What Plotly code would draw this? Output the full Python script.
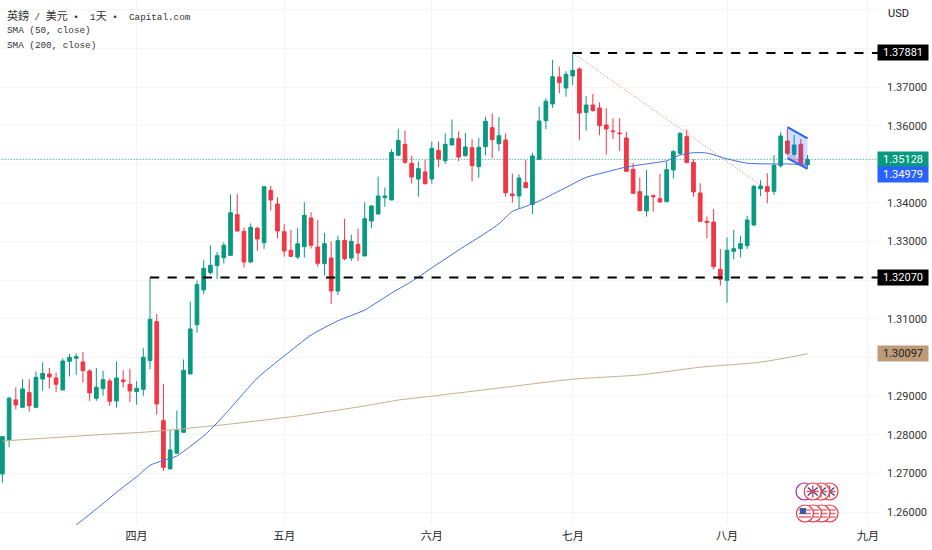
import plotly.graph_objects as go

PAGE_W = 932
PAGE_H = 550
PLOT_W = 878
PLOT_H = 525

# daily GBP/USD candles
opens = [1.26987, 1.27869, 1.28904, 1.28712, 1.29092, 1.28712, 1.29445, 1.29575, 1.29471, 1.29161,
         1.29902, 1.29980, 1.29885, 1.29652, 1.28945, 1.29195, 1.29394, 1.28876, 1.29419, 1.29307,
         1.29118, 1.29178, 1.29920, 1.30929, 1.28367, 1.27117, 1.27522, 1.28065, 1.29575, 1.30851,
         1.31748, 1.32196, 1.32377, 1.32584, 1.32644, 1.33697, 1.33265, 1.32472, 1.33343, 1.32972,
         1.34326, 1.33973, 1.33257, 1.32774, 1.32601, 1.32869, 1.33610, 1.32860, 1.32429, 1.32575,
         1.31722, 1.33033, 1.32575, 1.32929, 1.32627, 1.33533, 1.33714, 1.34137, 1.34076, 1.35232,
         1.35516, 1.35025, 1.34620, 1.34801, 1.34620, 1.35361, 1.35094, 1.35499, 1.35663, 1.35223,
         1.35430, 1.34939, 1.35456, 1.35948, 1.35534, 1.35629, 1.34232, 1.34180, 1.34525, 1.33964,
         1.35128, 1.36129, 1.36560, 1.37259, 1.36974, 1.37285, 1.37466, 1.36344, 1.36534, 1.36457,
         1.36017, 1.35862, 1.35810, 1.35681, 1.34870, 1.34292, 1.33792, 1.34189, 1.34111, 1.34033,
         1.34853, 1.35284, 1.35715, 1.35051, 1.34258, 1.33525, 1.33507, 1.32283, 1.31998, 1.32748,
         1.32817, 1.32895, 1.33430, 1.34370, 1.34422, 1.34301, 1.34965, 1.35603, 1.35258, 1.35517,
         1.34991]
highs = [1.2797, 1.2899, 1.2923, 1.2944, 1.2944, 1.2964, 1.2988, 1.2973, 1.2961, 1.2998,
         1.3009, 1.3011, 1.3014, 1.2970, 1.2973, 1.2966, 1.2946, 1.2990, 1.2967, 1.2971,
         1.2939, 1.3024, 1.32070, 1.3113, 1.2932, 1.2813, 1.2863, 1.2995, 1.3145, 1.3199,
         1.3252, 1.3290, 1.3273, 1.3298, 1.3422, 1.3423, 1.3337, 1.3347, 1.3339, 1.3442,
         1.3444, 1.3415, 1.3345, 1.3330, 1.3335, 1.3402, 1.3376, 1.3356, 1.3322, 1.3300,
         1.3315, 1.3359, 1.3318, 1.3333, 1.3402, 1.3394, 1.3468, 1.3440, 1.3539, 1.3592,
         1.3587, 1.3522, 1.3507, 1.3511, 1.3559, 1.3559, 1.3580, 1.3616, 1.3585, 1.3581,
         1.3565, 1.3568, 1.3623, 1.3632, 1.3622, 1.3580, 1.3476, 1.3474, 1.3511, 1.3530,
         1.3649, 1.3671, 1.3770, 1.3753, 1.3741, 1.37881, 1.3751, 1.3677, 1.3682, 1.3660,
         1.3645, 1.3619, 1.3619, 1.3584, 1.3503, 1.3466, 1.3485, 1.3422, 1.3475, 1.3507,
         1.3537, 1.3583, 1.3589, 1.3513, 1.3451, 1.3365, 1.3384, 1.3281, 1.3311, 1.3330,
         1.3315, 1.3367, 1.3447, 1.3459, 1.3477, 1.3524, 1.3584, 1.3593, 1.3576, 1.3565,
         1.3524]
lows = [1.2676, 1.2768, 1.2866, 1.2871, 1.2860, 1.2871, 1.2914, 1.2920, 1.2911, 1.2916,
        1.2951, 1.2955, 1.2935, 1.2888, 1.2888, 1.2901, 1.2875, 1.2870, 1.2922, 1.2885,
        1.2878, 1.2901, 1.2970, 1.2852, 1.2707, 1.2712, 1.2752, 1.2806, 1.2957, 1.3064,
        1.3164, 1.3215, 1.3203, 1.3243, 1.3264, 1.3327, 1.3233, 1.3244, 1.3276, 1.3281,
        1.3380, 1.3308, 1.3261, 1.3260, 1.3254, 1.3259, 1.3282, 1.3235, 1.3212, 1.3139,
        1.3162, 1.3252, 1.3250, 1.3250, 1.3263, 1.3335, 1.3371, 1.3390, 1.3408, 1.3523,
        1.3501, 1.3450, 1.3416, 1.3448, 1.3450, 1.3493, 1.3501, 1.3550, 1.3508, 1.3520,
        1.3456, 1.3465, 1.3523, 1.3516, 1.3534, 1.3416, 1.3401, 1.3386, 1.3439, 1.3371,
        1.3513, 1.3591, 1.3646, 1.3684, 1.3675, 1.3705, 1.3563, 1.3587, 1.3636, 1.3575,
        1.3525, 1.3565, 1.3534, 1.3482, 1.3425, 1.3380, 1.3365, 1.3377, 1.3401, 1.3403,
        1.3463, 1.3524, 1.3504, 1.3416, 1.3351, 1.3308, 1.3228, 1.3186, 1.3142, 1.3254,
        1.3259, 1.3281, 1.3340, 1.3418, 1.3399, 1.3421, 1.3491, 1.3524, 1.3520, 1.3501,
        1.3490]
closes = [1.27953, 1.28947, 1.28774, 1.29187, 1.28755, 1.29488, 1.29592, 1.29497, 1.29307, 1.29911,
          1.30006, 1.30023, 1.29661, 1.29083, 1.29230, 1.29428, 1.28868, 1.29471, 1.29376, 1.29135,
          1.29204, 1.30006, 1.30989, 1.28799, 1.27160, 1.27608, 1.28109, 1.29670, 1.30739, 1.31886,
          1.32309, 1.32386, 1.32636, 1.32903, 1.33748, 1.33274, 1.32472, 1.33369, 1.33067, 1.34421,
          1.34076, 1.33274, 1.32757, 1.32619, 1.32946, 1.33679, 1.32903, 1.32438, 1.32946, 1.31722,
          1.33024, 1.32558, 1.33007, 1.32705, 1.33593, 1.33921, 1.34180, 1.34180, 1.35309, 1.35620,
          1.35051, 1.34671, 1.34887, 1.34499, 1.35413, 1.35137, 1.35517, 1.35663, 1.35189, 1.35448,
          1.34965, 1.35439, 1.36112, 1.35637, 1.35741, 1.34266, 1.34188, 1.34645, 1.34395, 1.35215,
          1.36120, 1.36629, 1.37267, 1.37112, 1.37328, 1.37431, 1.36327, 1.36534, 1.36388, 1.36000,
          1.35913, 1.35845, 1.35793, 1.34818, 1.34249, 1.33801, 1.34180, 1.34163, 1.34025, 1.34861,
          1.35327, 1.35802, 1.35043, 1.34284, 1.33525, 1.33499, 1.32352, 1.32024, 1.32774, 1.32817,
          1.32947, 1.33559, 1.34430, 1.34439, 1.34292, 1.34974, 1.35733, 1.35284, 1.35500, 1.35025,
          1.35128]
days = list(range(len(closes)))

sma50_days = [11, 14, 18, 20, 22, 24, 26, 28, 30, 32, 34, 38, 42, 46, 50, 54, 58, 61, 64, 68,
              72, 74, 76, 78, 80, 84, 87, 90, 93, 96, 99, 101, 103, 105, 108, 111, 114, 117, 120]
sma50 = [1.2567, 1.2608, 1.2665, 1.2691, 1.2721, 1.2734, 1.2745, 1.2770, 1.2797, 1.2831,
         1.2869, 1.2947, 1.3004, 1.3058, 1.3095, 1.3123, 1.3167, 1.3197, 1.3232, 1.3278,
         1.3322, 1.3346, 1.3378, 1.3391, 1.3405, 1.3440, 1.3466, 1.3480, 1.3493, 1.3501,
         1.3509, 1.3524, 1.3530, 1.3529, 1.3514, 1.3503, 1.3501, 1.3501, 1.34979]
sma200_days = [0, 15, 22, 34, 44, 53, 59, 64, 74, 85, 95, 104, 113, 120]
sma200 = [1.2784, 1.2801, 1.2808, 1.2828, 1.2849, 1.2872, 1.2890, 1.2900, 1.2921, 1.2944,
          1.2955, 1.2975, 1.2988, 1.30097]

# drawings on the chart
high_level = 1.37881
low_level = 1.32070
high_day = 85
low_day = 22
slope_days = [85, 113]
slope_prices = [1.37881, 1.3446]
flag_days = [117, 120, 120, 117, 117]
flag_prices = [1.3596, 1.3567, 1.3488, 1.3516, 1.3596]
inner_days = [117, 120, 120, 117]
inner_prices = [1.3530, 1.3500, 1.3490, 1.3516]

last_price = 1.35128
last_sma50 = 1.34979
last_sma200 = 1.30097

month_days = [20, 42, 64, 85, 108, 129]
month_labels = ["四月", "五月", "六月", "七月", "八月", "九月"]
price_ticks = [1.26, 1.27, 1.28, 1.29, 1.30, 1.31, 1.32, 1.33, 1.34, 1.35, 1.36, 1.37, 1.38, 1.39]
price_labels = ["1.26000", "1.27000", "1.28000", "1.29000", "", "1.31000", "", "1.33000", "1.34000",
                "", "1.36000", "1.37000", "", ""]

GREEN = "#089981"
RED = "#f23645"
BLUE = "#2962ff"
TAN = "#bd9a78"
AXIS_FONT = "Roboto, sans-serif"
LEGEND_FONT = "'Liberation Mono', 'Noto Sans CJK TC', monospace"
LEVEL_DASH = "9.2px 8.4px"

fig = go.Figure()

fig.add_trace(go.Scatter(x=sma200_days, y=sma200, mode="lines", line=dict(color="#c9ad8e", width=1, shape="spline", smoothing=0.6), hoverinfo="skip"))
fig.add_trace(go.Scatter(x=sma50_days, y=sma50, mode="lines", line=dict(color="#3f6fe0", width=1, shape="spline", smoothing=0.6), hoverinfo="skip"))

# current price line
fig.add_trace(go.Scatter(x=[-1, 131], y=[last_price, last_price], mode="lines",
                         line=dict(color=GREEN, width=1, dash="1px 2px"), hoverinfo="skip"))

fig.add_trace(go.Scatter(x=inner_days, y=inner_prices, mode="lines", fill="toself", fillcolor="rgba(242,54,69,0.22)",
                         line=dict(width=0), hoverinfo="skip"))
fig.add_trace(go.Scatter(x=flag_days, y=flag_prices, mode="lines", fill="toself", fillcolor="rgba(41,98,255,0.22)",
                         line=dict(width=0), hoverinfo="skip"))

fig.add_trace(go.Candlestick(x=days, open=opens, high=highs, low=lows, close=closes,
                             increasing=dict(line=dict(color=GREEN, width=1), fillcolor=GREEN),
                             decreasing=dict(line=dict(color=RED, width=1), fillcolor=RED),
                             whiskerwidth=0, hoverinfo="skip"))

# flag edges over the candles
fig.add_trace(go.Scatter(x=flag_days[:2], y=flag_prices[:2], mode="lines", line=dict(color=BLUE, width=2), hoverinfo="skip"))
fig.add_trace(go.Scatter(x=flag_days[3:1:-1], y=flag_prices[3:1:-1], mode="lines", line=dict(color=BLUE, width=2), hoverinfo="skip"))

fig.add_trace(go.Scatter(x=slope_days, y=slope_prices, mode="lines", line=dict(color="#ee6b77", width=1, dash="1px 2px"), hoverinfo="skip"))
fig.add_trace(go.Scatter(x=[high_day, 131], y=[high_level, high_level], mode="lines",
                         line=dict(color="black", width=2, dash=LEVEL_DASH), hoverinfo="skip"))
fig.add_trace(go.Scatter(x=[low_day, 131], y=[low_level, low_level], mode="lines",
                         line=dict(color="black", width=2, dash=LEVEL_DASH), hoverinfo="skip"))


def tag(price, text, bg, fg="white", shift=0):
    fig.add_annotation(x=1, xref="paper", xshift=-1, y=price, yref="y", xanchor="left", yanchor="middle", yshift=shift,
                       text=text, showarrow=False, width=50, height=15, align="center", bgcolor=bg, borderpad=0,
                       font=dict(family=AXIS_FONT, size=11, color=fg))


tag(high_level, "1.37881", "black")
tag(low_level, "1.32070", "black")
tag(last_price, "1.35128", GREEN)
tag(last_sma50, "1.34979", BLUE, shift=-9)
tag(last_sma200, "1.30097", TAN, fg="#222222")

fig.add_annotation(x=899 / PLOT_W, xref="paper", y=1 - 14 / PLOT_H, yref="paper", xanchor="center", yanchor="middle",
                   text="USD", showarrow=False, font=dict(family=AXIS_FONT, size=11, color="#131722"))

# legend lines top left
CJK = '<span style="font-size:11px">{}</span>'
legend_lines = [
    (CJK.format("英鎊") + " / " + CJK.format("美元") + " • \u00a01" + CJK.format("天") + " • \u00a0Capital.com", 16),
    ("SMA (50, close)", 31),
    ("SMA (200, close)", 46),
]
for text, top in legend_lines:
    fig.add_annotation(x=5 / PLOT_W, xref="paper", y=1 - top / PLOT_H, yref="paper", xanchor="left", yanchor="middle",
                       text=text, showarrow=False, font=dict(family=LEGEND_FONT, size=9.3, color="#333333"))


# the two coin badges bottom right
def px_circle(cx, cy, r, line, fill, width=1.2):
    fig.add_shape(type="circle", xref="paper", yref="paper", x0=(cx - r) / PLOT_W, x1=(cx + r) / PLOT_W,
                  y0=1 - (cy + r) / PLOT_H, y1=1 - (cy - r) / PLOT_H, line=dict(color=line, width=width), fillcolor=fill)


def px_line(x0, y0, x1, y1, color, width=1):
    fig.add_shape(type="line", xref="paper", yref="paper", x0=x0 / PLOT_W, x1=x1 / PLOT_W,
                  y0=1 - y0 / PLOT_H, y1=1 - y1 / PLOT_H, line=dict(color=color, width=width))


px_circle(804.5, 491.5, 8.5, "#9c27b0", "white")
for cx in [829.5, 821, 812.7]:
    px_circle(cx, 491.5, 8.5, "#f23645", "white")
    px_line(cx - 5, 487.5, cx + 5, 495.5, "#2a4b9b", 1.5)
    px_line(cx - 5, 495.5, cx + 5, 487.5, "#2a4b9b", 1.5)
    px_line(cx, 485.5, cx, 497.5, "#e5484d", 1.5)
    px_line(cx - 6, 491.5, cx + 6, 491.5, "#e5484d", 1.5)
for cx in [829.5, 821.5, 813, 805]:
    px_circle(cx, 513.5, 8.5, "#f23645", "white")
    for dy in [-3.5, 0, 3.5]:
        px_line(cx - 6, 513.5 + dy, cx + 6, 513.5 + dy, "#f0616b", 1.4)
fig.add_shape(type="rect", xref="paper", yref="paper", x0=800 / PLOT_W, x1=806 / PLOT_W,
              y0=1 - 514 / PLOT_H, y1=1 - 508 / PLOT_H, fillcolor="#3a5ba8", line=dict(width=0))

fig.update_layout(
    width=PAGE_W, height=PAGE_H,
    margin=dict(l=0, r=PAGE_W - PLOT_W, t=0, b=PAGE_H - PLOT_H),
    paper_bgcolor="white", plot_bgcolor="white",
    showlegend=False,
    boxgap=0.45, boxgroupgap=0,
    xaxis=dict(range=[-0.358, 130.5], rangeslider=dict(visible=False), tickmode="array", tickvals=month_days, ticktext=month_labels,
               showgrid=True, gridcolor="#f4f4f5", gridwidth=1, zeroline=False, showline=False, ticks="", ticklabelstandoff=3,
               tickfont=dict(family="'Noto Sans CJK SC', sans-serif", size=11, color="#222222")),
    yaxis=dict(range=[1.25667, 1.39251], side="right", tickmode="array", tickvals=price_ticks, ticktext=price_labels,
               showgrid=True, gridcolor="#f4f4f5", gridwidth=1, zeroline=False, showline=False, ticks="", ticklabelstandoff=8,
               tickfont=dict(family=AXIS_FONT, size=11, color="#333333")),
)

fig.write_html("out.html", config={"displayModeBar": False}, post_script="document.body.style.margin='0';")
